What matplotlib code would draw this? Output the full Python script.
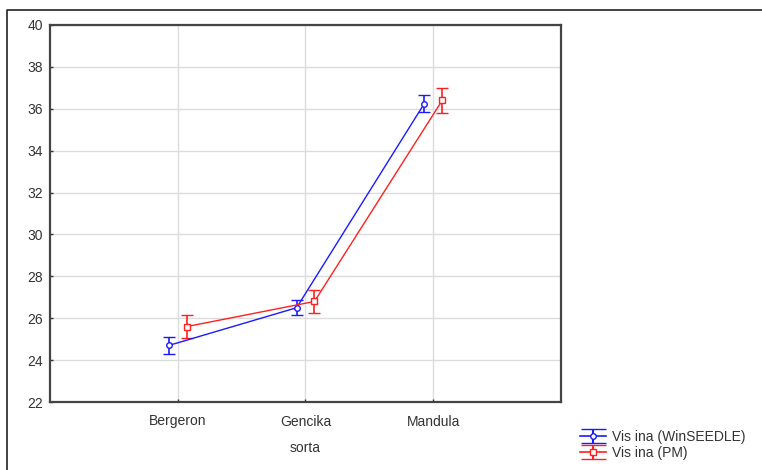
import matplotlib
matplotlib.use("Agg")
import matplotlib.pyplot as plt
from matplotlib.lines import Line2D
import numpy as np

plt.rcParams['font.family'] = ['Liberation Sans', 'DejaVu Sans']

categories = ["Bergeron", "Gencika", "Mandula"]
winseedle_mean = [24.7, 26.5, 36.25]
winseedle_err = [0.4, 0.37, 0.4]
pm_mean = [25.6, 26.8, 36.4]
pm_err = [0.53, 0.53, 0.6]
series_labels = ["Vis ina (WinSEEDLE)", "Vis ina (PM)"]
y_ticks = [22, 24, 26, 28, 30, 32, 34, 36, 38, 40]

W, H = 762, 470
fig = plt.figure(figsize=(W / 100, H / 100), dpi=100)
ax = fig.add_axes([50 / W, 1 - 402 / H, (561 - 50) / W, (402 - 25) / H])

x = np.arange(len(categories))
off = 0.07
blue = "#1a1aff"
red = "#ff2020"
ax.errorbar(x - off, winseedle_mean, yerr=winseedle_err, color=blue, lw=1.0,
            marker="o", ms=4, mfc="white", mec=blue, mew=1.0,
            capsize=4.5, capthick=1.2, elinewidth=1.2, zorder=3)
ax.errorbar(x + off, pm_mean, yerr=pm_err, color=red, lw=1.0,
            marker="s", ms=4, mfc="white", mec=red, mew=1.0,
            capsize=4.5, capthick=1.2, elinewidth=1.2, zorder=3)

# legend proxies (no visible data)
p1 = ax.errorbar([np.nan], [np.nan], yerr=[1], color=blue, lw=1.2,
                 marker="o", ms=4, mfc="white", mec=blue, mew=1.0,
                 capsize=9, capthick=1.5, elinewidth=1.5)
p2 = ax.errorbar([np.nan], [np.nan], yerr=[1], color=red, lw=1.2,
                 marker="s", ms=4, mfc="white", mec=red, mew=1.0,
                 capsize=9, capthick=1.5, elinewidth=1.5)

ax.set_xlim(-1, 3)
ax.set_ylim(22, 40)
ax.set_xticks(x)
ax.set_xticklabels(categories, fontsize=10, color="#333333")
ax.set_yticks(y_ticks)
ax.set_yticklabels([str(t) for t in y_ticks], fontsize=10, color="#333333")
ax.grid(True, color="#dcdcdc", lw=1.0, zorder=0)
ax.set_axisbelow(True)
ax.tick_params(direction="in", length=2, width=1, color="#333333")
ax.tick_params(axis="x", pad=9)
ax.tick_params(axis="y", pad=5)
for s in ax.spines.values():
    s.set_color("#444444")
    s.set_linewidth(1.6)
ax.set_xlabel("sorta", fontsize=10, color="#333333", labelpad=9)

fig.legend(handles=[p1, p2], labels=series_labels, loc="upper left",
           bbox_to_anchor=(573 / W, 1 - 423 / H), frameon=False, fontsize=10,
           handlelength=1.9, handletextpad=0.4, labelspacing=0.15, borderpad=0,
           labelcolor="#333333")

# outer frame lines
fig.add_artist(Line2D([7 / W, 7 / W, 1.0], [0.0, 1 - 10 / H, 1 - 10 / H],
                      transform=fig.transFigure, color="#222222", lw=1.2))

fig.savefig("out.png", dpi=100, facecolor="white")
